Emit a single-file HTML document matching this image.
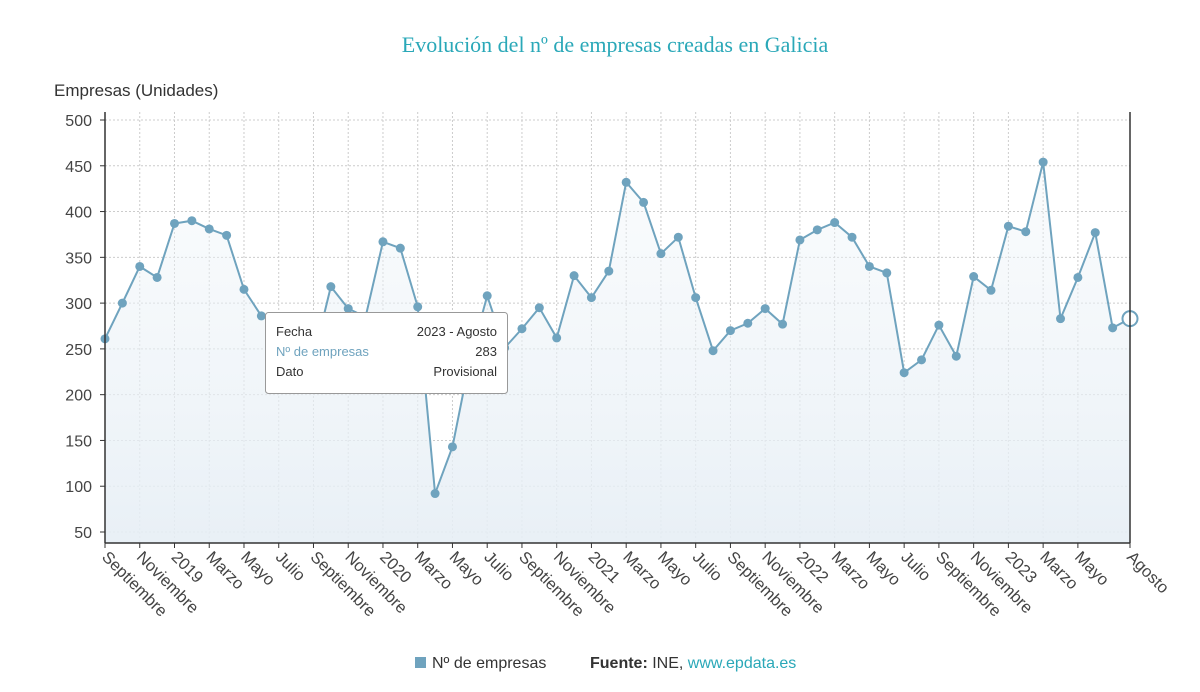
<!DOCTYPE html>
<html><head><meta charset="utf-8"><style>
body{margin:0;background:#fff;font-family:"Liberation Sans",sans-serif;}
svg text{font-family:"Liberation Sans",sans-serif;}
</style></head><body>
<svg id="chart" width="1200" height="687" xmlns="http://www.w3.org/2000/svg">
<defs><linearGradient id="g" x1="0" y1="0" x2="0" y2="1"><stop offset="0" stop-color="#eef4f8" stop-opacity="0.3"/><stop offset="1" stop-color="#e6eef5" stop-opacity="0.9"/></linearGradient></defs>
<text x="615" y="52" text-anchor="middle" style="font-family:'Liberation Serif',serif" font-size="22" fill="#2aa8b8">Evolución del nº de empresas creadas en Galicia</text>
<text x="54" y="96" font-size="17" fill="#333">Empresas (Unidades)</text>
<g id="grid"></g><g id="area"></g><g id="line"></g><g id="pts"></g><g id="axes"></g>
<g>
<rect x="265.5" y="312.5" width="242" height="81" rx="3" fill="#fff" stroke="#999"/>
<text x="276" y="336" font-size="13" fill="#333">Fecha</text><text x="497" y="336" font-size="13" fill="#333" text-anchor="end">2023 - Agosto</text>
<text x="276" y="356" font-size="13" fill="#6fa3be">Nº de empresas</text><text x="497" y="356" font-size="13" fill="#333" text-anchor="end">283</text>
<text x="276" y="376" font-size="13" fill="#333">Dato</text><text x="497" y="376" font-size="13" fill="#333" text-anchor="end">Provisional</text>
</g>
<g>
<rect x="415" y="657" width="11" height="11" fill="#6fa3be"/>
<text x="432" y="668" font-size="16" fill="#333">Nº de empresas</text>
<text x="590" y="668" font-size="16" fill="#333"><tspan font-weight="bold">Fuente:</tspan> INE, <tspan fill="#2aa8b8">www.epdata.es</tspan></text>
</g>
</svg>
<script>
const values=[261,300,340,328,387,390,381,374,315,286,282,238,240,318,294,285,367,360,296,92,143,238,308,251,272,295,262,330,306,335,432,410,354,372,306,248,270,278,294,277,369,380,388,372,340,333,224,238,276,242,329,314,384,378,454,283,328,377,273,283];
const labelIdx=[0,2,4,6,8,10,12,14,16,18,20,22,24,26,28,30,32,34,36,38,40,42,44,46,48,50,52,54,56,59];
const labelText=["Septiembre","Noviembre","2019","Marzo","Mayo","Julio","Septiembre","Noviembre","2020","Marzo","Mayo","Julio","Septiembre","Noviembre","2021","Marzo","Mayo","Julio","Septiembre","Noviembre","2022","Marzo","Mayo","Julio","Septiembre","Noviembre","2023","Marzo","Mayo","Agosto"];
const yTicks=[50,100,150,200,250,300,350,400,450,500];
const NS="http://www.w3.org/2000/svg";
const x0=105,x1=1130,yTop=120,yBot=543;
const X=i=>x0+i*(x1-x0)/(values.length-1);
const Y=v=>yTop+(500-v)*(412/450);
function mk(tag,at,p){const e=document.createElementNS(NS,tag);for(const k in at)e.setAttribute(k,at[k]);document.getElementById(p).appendChild(e);return e;}
yTicks.forEach(t=>{const g=mk('line',{x1:x0,x2:x1,y1:Y(t),y2:Y(t),stroke:'#ccc','stroke-dasharray':'2,2'},'grid');

const l=mk('text',{x:92,y:Y(t)+6,'text-anchor':'end','font-size':16,fill:'#444'},'axes');l.textContent=t;

mk('line',{x1:x0-5,x2:x0,y1:Y(t),y2:Y(t),stroke:'#333'},'axes');});
labelIdx.forEach((i,k)=>{const g=mk('line',{x1:X(i),x2:X(i),y1:yTop-8,y2:yBot,stroke:'#ccc','stroke-dasharray':'2,2'},'grid');

mk('line',{x1:X(i),x2:X(i),y1:yBot,y2:yBot+5,stroke:'#333'},'axes');
const l=mk('text',{x:X(i)-4,y:yBot+15,'font-size':16.5,fill:'#444',transform:`rotate(45 ${X(i)-4} ${yBot+15})`},'axes');l.textContent=labelText[k];
});
const ax=mk('line',{x1:x0,x2:x0,y1:yTop-8,y2:yBot,stroke:'#333','stroke-width':1.5},'axes');

const ax2=mk('line',{x1:x1,x2:x1,y1:yTop-8,y2:yBot,stroke:'#333','stroke-width':1.5},'axes');

const xa=mk('line',{x1:x0,x2:x1,y1:yBot,y2:yBot,stroke:'#333','stroke-width':1.5},'axes');

let d=values.map((v,i)=>(i?'L':'M')+X(i)+','+Y(v)).join(' ');
const ar=mk('path',{d:d+` L${X(values.length-1)},${yBot} L${x0},${yBot} Z`,fill:'url(#g)'},'area');

const ln=mk('path',{d:d,fill:'none',stroke:'#6fa3be','stroke-width':2},'line');

values.forEach((v,i)=>{const last=i===values.length-1;
const c=mk('circle',{cx:X(i),cy:Y(v),r:last?7.5:4.5,fill:last?'#fff':'#6fa3be',stroke:last?'#6fa3be':'none','stroke-width':2},'pts');
});
</script>
</body></html>
